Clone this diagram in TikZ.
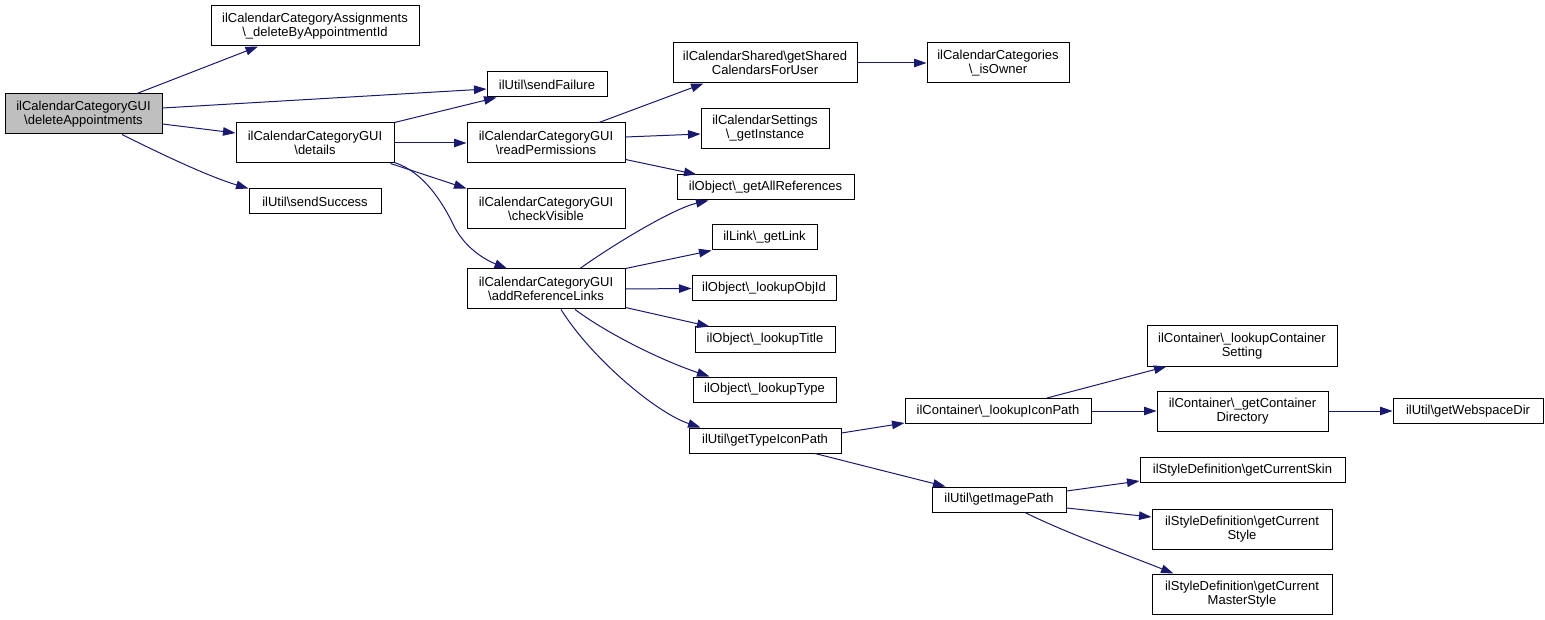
\documentclass[tikz,border=0pt]{standalone}
\usepackage{fontspec}
\setmainfont{Liberation Sans}
\usetikzlibrary{arrows.meta,calc}
\newcommand{\bs}{\textbackslash}
\definecolor{edgecol}{RGB}{25,25,112}
\definecolor{graybox}{RGB}{191,191,191}
\begin{document}
\begin{tikzpicture}[x=1pt,y=-1pt,
  box/.style={draw=black, line width=1pt, fill=white, inner sep=0pt, align=center,
    font=\fontsize{13}{14}\selectfont, minimum height=25pt},
  tall/.style={minimum height=40pt},
  edge/.style={draw=edgecol, line width=1pt,
    -{Triangle[length=12.5pt,width=8.5pt,fill=edgecol]}}
]
\useasboundingbox (0,0) rectangle (1545,620);
\fill[white] (0,0) rectangle (1545,620);

\node[box,tall,fill=graybox,minimum width=157pt] (A) at (83.5,114) {ilCalendarCategoryGUI\\\bs deleteAppointments};
\node[box,tall,minimum width=208pt] (B) at (315,26) {ilCalendarCategoryAssignments\\\bs\_deleteByAppointmentId};
\node[box,minimum width=120pt] (C) at (547,84.5) {ilUtil\bs sendFailure};
\node[box,tall,minimum width=158pt] (D) at (315,143) {ilCalendarCategoryGUI\\\bs details};
\node[box,minimum width=132pt] (E) at (315,201.5) {ilUtil\bs sendSuccess};
\node[box,tall,minimum width=158pt] (F) at (546,143) {ilCalendarCategoryGUI\\\bs readPermissions};
\node[box,tall,minimum width=158pt] (G) at (546,209) {ilCalendarCategoryGUI\\\bs checkVisible};
\node[box,tall,minimum width=158pt] (H) at (546,289) {ilCalendarCategoryGUI\\\bs addReferenceLinks};
\node[box,tall,minimum width=184pt] (I) at (765,63) {ilCalendarShared\bs getShared\\CalendarsForUser};
\node[box,tall,minimum width=142pt] (J) at (998,63) {ilCalendarCategories\\\bs\_isOwner};
\node[box,tall,minimum width=128pt] (K) at (765,128.5) {ilCalendarSettings\\\bs\_getInstance};
\node[box,minimum width=177pt] (L) at (765.5,187.5) {ilObject\bs\_getAllReferences};
\node[box,minimum width=105pt] (M) at (764.5,237.5) {ilLink\bs\_getLink};
\node[box,minimum width=144pt] (N) at (764,288.5) {ilObject\bs\_lookupObjId};
\node[box,minimum width=140pt] (O) at (765,339.5) {ilObject\bs\_lookupTitle};
\node[box,minimum width=143pt] (P) at (764.5,389.5) {ilObject\bs\_lookupType};
\node[box,minimum width=152pt] (Q) at (765,440.5) {ilUtil\bs getTypeIconPath};
\node[box,minimum width=186pt] (R) at (998,411) {ilContainer\bs\_lookupIconPath};
\node[box,tall,minimum width=190pt] (S) at (1242,346) {ilContainer\bs\_lookupContainer\\Setting};
\node[box,tall,minimum width=171pt] (T) at (1242.5,411) {ilContainer\bs\_getContainer\\Directory};
\node[box,minimum width=150pt] (U) at (1468,411) {ilUtil\bs getWebspaceDir};
\node[box,minimum width=205pt] (V) at (1242.5,470) {ilStyleDefinition\bs getCurrentSkin};
\node[box,minimum width=134pt] (W) at (999,499.5) {ilUtil\bs getImagePath};
\node[box,tall,minimum width=180pt] (X) at (1242,529) {ilStyleDefinition\bs getCurrent\\Style};
\node[box,tall,minimum width=180pt] (Y) at (1242,594) {ilStyleDefinition\bs getCurrent\\MasterStyle};

% edges (yshift is in canvas direction: positive = up)
\draw[edge] ([xshift=53.5pt]A.north) -- ([xshift=-57pt]B.south);
\draw[edge] ([yshift=6pt]A.east) -- ([yshift=-4.5pt]C.west);
\draw[edge] (D.north east) -- ([xshift=10pt]C.south west);
\draw[edge] ([yshift=-10pt]A.east) -- ([yshift=10pt]D.west);
\draw[edge] ([xshift=38.5pt]A.south) .. controls +(40,20) and +(-40,-12) .. (E.north west);
\draw[edge] (D.east) -- (F.west);
\draw[edge] ([xshift=-4pt]D.south east) -- (G.north west);
\draw[edge] ([yshift=1pt]D.south east) .. controls +(30,10) and +(-12,-25) .. (455,228)
  .. controls +(12,22) and +(-20,-8) .. ([xshift=-39pt]H.north);
\draw[edge] ([xshift=53pt]F.north) -- ([xshift=31pt]I.south west);
\draw[edge] ([yshift=6pt]F.east) -- ([yshift=-5.5pt]K.west);
\draw[edge] ([yshift=4pt]F.south east) -- ([xshift=20pt]L.north west);
\draw[edge] (I.east) -- (J.west);
\draw[edge] ([xshift=34pt]H.north) .. controls +(35,-25) and +(-35,8) .. ([xshift=32pt]L.south west);
\draw[edge] (H.north east) -- (M.south west);
\draw[edge] (H.east) -- (N.west);
\draw[edge] ([yshift=2pt]H.south east) -- ([xshift=15pt]O.north west);
\draw[edge] ([xshift=29pt]H.south) .. controls +(35,26) and +(-45,-15) .. ([xshift=17pt]P.north west);
\draw[edge] ([xshift=15pt]H.south) .. controls +(30,48) and +(-45,-15) .. ([xshift=12pt]Q.north west);
\draw[edge] ([yshift=7.5pt]Q.east) -- ([yshift=-12pt]R.west);
\draw[edge] ([xshift=50pt]Q.south) -- ([xshift=14pt]W.north west);
\draw[edge] ([xshift=49pt]R.north) -- ([xshift=20pt]S.south west);
\draw[edge] (R.east) -- (T.west);
\draw[edge] (T.east) -- (U.west);
\draw[edge] ([yshift=8.5pt]W.east) -- ([yshift=-11pt]V.west);
\draw[edge] ([yshift=-8.5pt]W.east) -- ([yshift=12pt]X.west);
\draw[edge] ([xshift=26pt]W.south) .. controls +(40,20) and +(-45,-18) .. ([xshift=22pt]Y.north west);
\end{tikzpicture}
\end{document}
